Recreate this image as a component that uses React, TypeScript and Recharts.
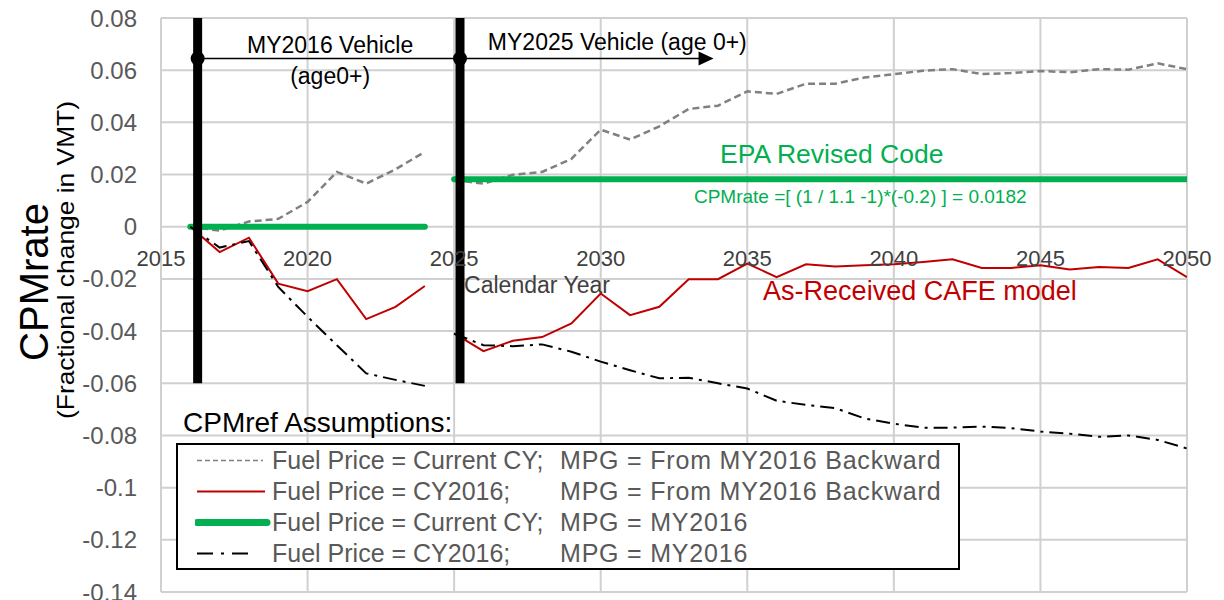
import { LineChart, Line, XAxis, YAxis, CartesianGrid, ReferenceLine, ReferenceDot, Legend } from 'recharts'

const FONT = '"Liberation Sans", Arial, sans-serif'

// axis ticks
const X_TICKS = [2015, 2020, 2025, 2030, 2035, 2040, 2045, 2050]
const Y_TICKS = [-0.14, -0.12, -0.1, -0.08, -0.06, -0.04, -0.02, 0, 0.02, 0.04, 0.06, 0.08]

// MY2016 vehicle, calendar years 2016-2024
const YEARS_MY2016 = [2016, 2017, 2018, 2019, 2020, 2021, 2022, 2023, 2024]
const CURRENT_BACKWARD_MY2016 = [0, -0.0015, 0.002, 0.003, 0.0095, 0.021, 0.0165, 0.022, 0.0287]
const CY2016_BACKWARD_MY2016 = [0, -0.0097, -0.0042, -0.0218, -0.0247, -0.0201, -0.0354, -0.0307, -0.0227]
const CURRENT_FIXED_MY2016 = [0, 0, 0, 0, 0, 0, 0, 0, 0]
const CY2016_FIXED_MY2016 = [0, -0.008, -0.0055, -0.0231, -0.0345, -0.0454, -0.0562, -0.0587, -0.061]

// MY2025 vehicle, calendar years 2025-2050
const YEARS_MY2025 = [2025, 2026, 2027, 2028, 2029, 2030, 2031, 2032, 2033, 2034, 2035, 2036, 2037,
  2038, 2039, 2040, 2041, 2042, 2043, 2044, 2045, 2046, 2047, 2048, 2049, 2050]
const CURRENT_BACKWARD_MY2025 = [0.018, 0.0165, 0.0199, 0.021, 0.026, 0.0372, 0.0334, 0.0385, 0.0451, 0.0464,
  0.0519, 0.0509, 0.0548, 0.0548, 0.0572, 0.0585, 0.0598, 0.0604, 0.0585, 0.0589, 0.0597, 0.0592, 0.0604,
  0.0602, 0.0626, 0.0604]
const CY2016_BACKWARD_MY2025 = [-0.0409, -0.0477, -0.0437, -0.0423, -0.0371, -0.0256, -0.0339, -0.0307,
  -0.0201, -0.0201, -0.0141, -0.0193, -0.0144, -0.0152, -0.0148, -0.0144, -0.0135, -0.0125, -0.0158,
  -0.0158, -0.0148, -0.0164, -0.0154, -0.0158, -0.0125, -0.0193]
const CURRENT_FIXED_MY2025 = [0.0182, 0.0182, 0.0182, 0.0182, 0.0182, 0.0182, 0.0182, 0.0182, 0.0182, 0.0182,
  0.0182, 0.0182, 0.0182, 0.0182, 0.0182, 0.0182, 0.0182, 0.0182, 0.0182, 0.0182, 0.0182, 0.0182, 0.0182,
  0.0182, 0.0182, 0.0182]
const CY2016_FIXED_MY2025 = [-0.041, -0.0454, -0.0458, -0.0451, -0.0479, -0.0517, -0.055, -0.0581, -0.0579,
  -0.06, -0.062, -0.0667, -0.0683, -0.0695, -0.0735, -0.0755, -0.077, -0.077, -0.0766, -0.0772, -0.0785,
  -0.0793, -0.0805, -0.08, -0.0817, -0.085]

const seg2016 = YEARS_MY2016.map((year, i) => ({
  year,
  currentBackward: CURRENT_BACKWARD_MY2016[i],
  cy2016Backward: CY2016_BACKWARD_MY2016[i],
  currentFixed: CURRENT_FIXED_MY2016[i],
  cy2016Fixed: CY2016_FIXED_MY2016[i],
}))

const seg2025 = YEARS_MY2025.map((year, i) => ({
  year,
  currentBackward: CURRENT_BACKWARD_MY2025[i],
  cy2016Backward: CY2016_BACKWARD_MY2025[i],
  currentFixed: CURRENT_FIXED_MY2025[i],
  cy2016Fixed: CY2016_FIXED_MY2025[i],
}))

const SERIES = [
  { key: 'currentBackward', fuel: 'Fuel Price = Current CY;', mpg: 'MPG = From MY2016 Backward' },
  { key: 'cy2016Backward', fuel: 'Fuel Price = CY2016;', mpg: 'MPG = From MY2016 Backward' },
  { key: 'currentFixed', fuel: 'Fuel Price = Current CY;', mpg: 'MPG = MY2016' },
  { key: 'cy2016Fixed', fuel: 'Fuel Price = CY2016;', mpg: 'MPG = MY2016' },
]

const STYLE: Record<string, any> = {
  currentBackward: { stroke: '#808080', strokeWidth: 2.5, strokeDasharray: '7 4' },
  cy2016Backward: { stroke: '#c00000', strokeWidth: 2 },
  currentFixed: { stroke: '#00b050', strokeWidth: 6, strokeLinecap: 'round' },
  cy2016Fixed: { stroke: '#000000', strokeWidth: 2, strokeDasharray: '14 6 3 6' },
}

const LEGEND_SAMPLE: Record<string, any> = {
  currentBackward: { stroke: '#808080', strokeWidth: 1.5, strokeDasharray: '5 3', x2: 68 },
  cy2016Backward: { stroke: '#c00000', strokeWidth: 2, x2: 70 },
  currentFixed: { stroke: '#00b050', strokeWidth: 7, strokeLinecap: 'round', x2: 72 },
  cy2016Fixed: { stroke: '#000000', strokeWidth: 2, strokeDasharray: '16 8 3 8', x2: 58 },
}

// annotation anchors, in data units
const BAR_MY2016 = 2016.25
const BAR_MY2025 = 2025.2
const ARROW_Y = 0.0645
const ARROW_TIP = 2033.85

const NOTES = [
  { x: 2020.77, y: 0.0696, text: 'MY2016 Vehicle', pos: 'center', fill: '#000', size: 23 },
  { x: 2020.77, y: 0.0578, text: '(age0+)', pos: 'center', fill: '#000', size: 23 },
  { x: 2026.15, y: 0.0708, text: 'MY2025 Vehicle (age 0+)', pos: 'right', fill: '#000', size: 23 },
  { x: 2034.07, y: 0.0279, text: 'EPA Revised Code', pos: 'right', fill: '#00b050', size: 26.5 },
  { x: 2033.18, y: 0.0118, text: 'CPMrate =[ (1 / 1.1 -1)*(-0.2) ] = 0.0182', pos: 'right', fill: '#00b050', size: 19 },
  { x: 2035.54, y: -0.0246, text: 'As-Received CAFE model', pos: 'right', fill: '#c00000', size: 27 },
  { x: 2025.34, y: -0.0223, text: 'Calendar Year', pos: 'right', fill: '#404040', size: 23 },
]

function AxisTitle(props: any) {
  const { x, y } = props.viewBox
  return (
    <g fontFamily={FONT} fill="#000">
      <text transform={`translate(${x + 34},${y + 264}) rotate(-90)`} textAnchor="middle"
        dominantBaseline="central" fontSize={40} textLength={158} lengthAdjust="spacingAndGlyphs">CPMrate</text>
      <text transform={`translate(${x + 65},${y + 242}) rotate(-90)`} textAnchor="middle"
        dominantBaseline="central" fontSize={24} textLength={318} lengthAdjust="spacingAndGlyphs">(Fractional change in VMT)</text>
    </g>
  )
}

function AssumptionsLegend() {
  return (
    <div style={{ fontFamily: FONT }}>
      <div style={{ fontSize: 28, lineHeight: '32px', color: '#000', marginLeft: 7, marginBottom: 4 }}>CPMref Assumptions:</div>
      <div style={{ width: 784, height: 127, boxSizing: 'border-box', border: '2px solid #000', background: '#fff' }}>
        {SERIES.map((s) => {
          const sample = LEGEND_SAMPLE[s.key]
          return (
            <div key={s.key} style={{ position: 'relative', height: 31, lineHeight: '31px', fontSize: 25, color: '#595959' }}>
              <svg width={90} height={31} style={{ position: 'absolute', left: 17, top: 0 }}>
                <line x1={2} x2={sample.x2} y1={15.5} y2={15.5} stroke={sample.stroke} strokeWidth={sample.strokeWidth}
                  strokeDasharray={sample.strokeDasharray} strokeLinecap={sample.strokeLinecap} />
              </svg>
              <span style={{ position: 'absolute', left: 94, whiteSpace: 'nowrap' }}>{s.fuel}</span>
              <span style={{ position: 'absolute', left: 382, whiteSpace: 'nowrap', letterSpacing: 0.8 }}>{s.mpg}</span>
            </div>
          )
        })}
      </div>
    </div>
  )
}

export default function App() {
  return (
    <div style={{ position: 'absolute', left: 0, top: 0, background: '#fff' }}>
      <LineChart width={1224} height={600} margin={{ top: 18, right: 37, bottom: 8, left: 0 }}>
        <CartesianGrid stroke="#d0d0d0" strokeWidth={2} />
        <XAxis type="number" dataKey="year" domain={[2015, 2050]} ticks={X_TICKS} hide allowDataOverflow />
        <YAxis
          type="number"
          domain={[-0.14, 0.08]}
          ticks={Y_TICKS}
          width={161}
          axisLine={false}
          tickLine={false}
          tickSize={0}
          tickMargin={24}
          interval={0}
          tickFormatter={(v: number) => String(Number(v.toFixed(2)))}
          tick={{ fill: '#595959', fontSize: 24, fontFamily: FONT }}
          label={{ content: (p: any) => <AxisTitle {...p} /> }}
        />
        <Legend
          layout="horizontal"
          verticalAlign="middle"
          align="center"
          wrapperStyle={{ left: 176, top: 407, width: 784 }}
          content={() => <AssumptionsLegend />}
        />
        {[seg2016, seg2025].map((seg, s) =>
          SERIES.map((ser) => (
            <Line
              key={`${ser.key}-${s}`}
              data={seg}
              dataKey={ser.key}
              type="linear"
              dot={false}
              activeDot={false}
              isAnimationActive={false}
              {...STYLE[ser.key]}
            />
          ))
        )}
        {X_TICKS.map((t) => (
          <ReferenceDot key={t} x={t} y={0} r={0} fill="none" stroke="none"
            label={{ value: String(t), position: 'bottom', offset: 24, fill: '#404040', fontSize: 22, fontFamily: FONT }} />
        ))}
        <ReferenceLine segment={[{ x: BAR_MY2016, y: 0.08 }, { x: BAR_MY2016, y: -0.06 }]} stroke="#000" strokeWidth={9} />
        <ReferenceLine segment={[{ x: BAR_MY2025, y: 0.08 }, { x: BAR_MY2025, y: -0.06 }]} stroke="#000" strokeWidth={9} />
        <ReferenceLine segment={[{ x: BAR_MY2016, y: ARROW_Y }, { x: BAR_MY2025, y: ARROW_Y }]} stroke="#000" strokeWidth={1.5} />
        <ReferenceLine segment={[{ x: BAR_MY2025, y: ARROW_Y }, { x: ARROW_TIP - 0.4, y: ARROW_Y }]} stroke="#000" strokeWidth={1.5} />
        <ReferenceDot x={BAR_MY2016} y={ARROW_Y} r={7} fill="#000" stroke="none" />
        <ReferenceDot x={BAR_MY2025} y={ARROW_Y} r={7} fill="#000" stroke="none" />
        <ReferenceDot
          x={ARROW_TIP}
          y={ARROW_Y}
          r={0}
          shape={(p: any) => <polygon points={`${p.cx},${p.cy} ${p.cx - 15},${p.cy - 7} ${p.cx - 15},${p.cy + 7}`} fill="#000" />}
        />
        {NOTES.map((n) => (
          <ReferenceDot key={n.text} x={n.x} y={n.y} r={0} fill="none" stroke="none"
            label={{ value: n.text, position: n.pos as any, offset: 0, fill: n.fill, fontSize: n.size, fontFamily: FONT }} />
        ))}
      </LineChart>
    </div>
  )
}
